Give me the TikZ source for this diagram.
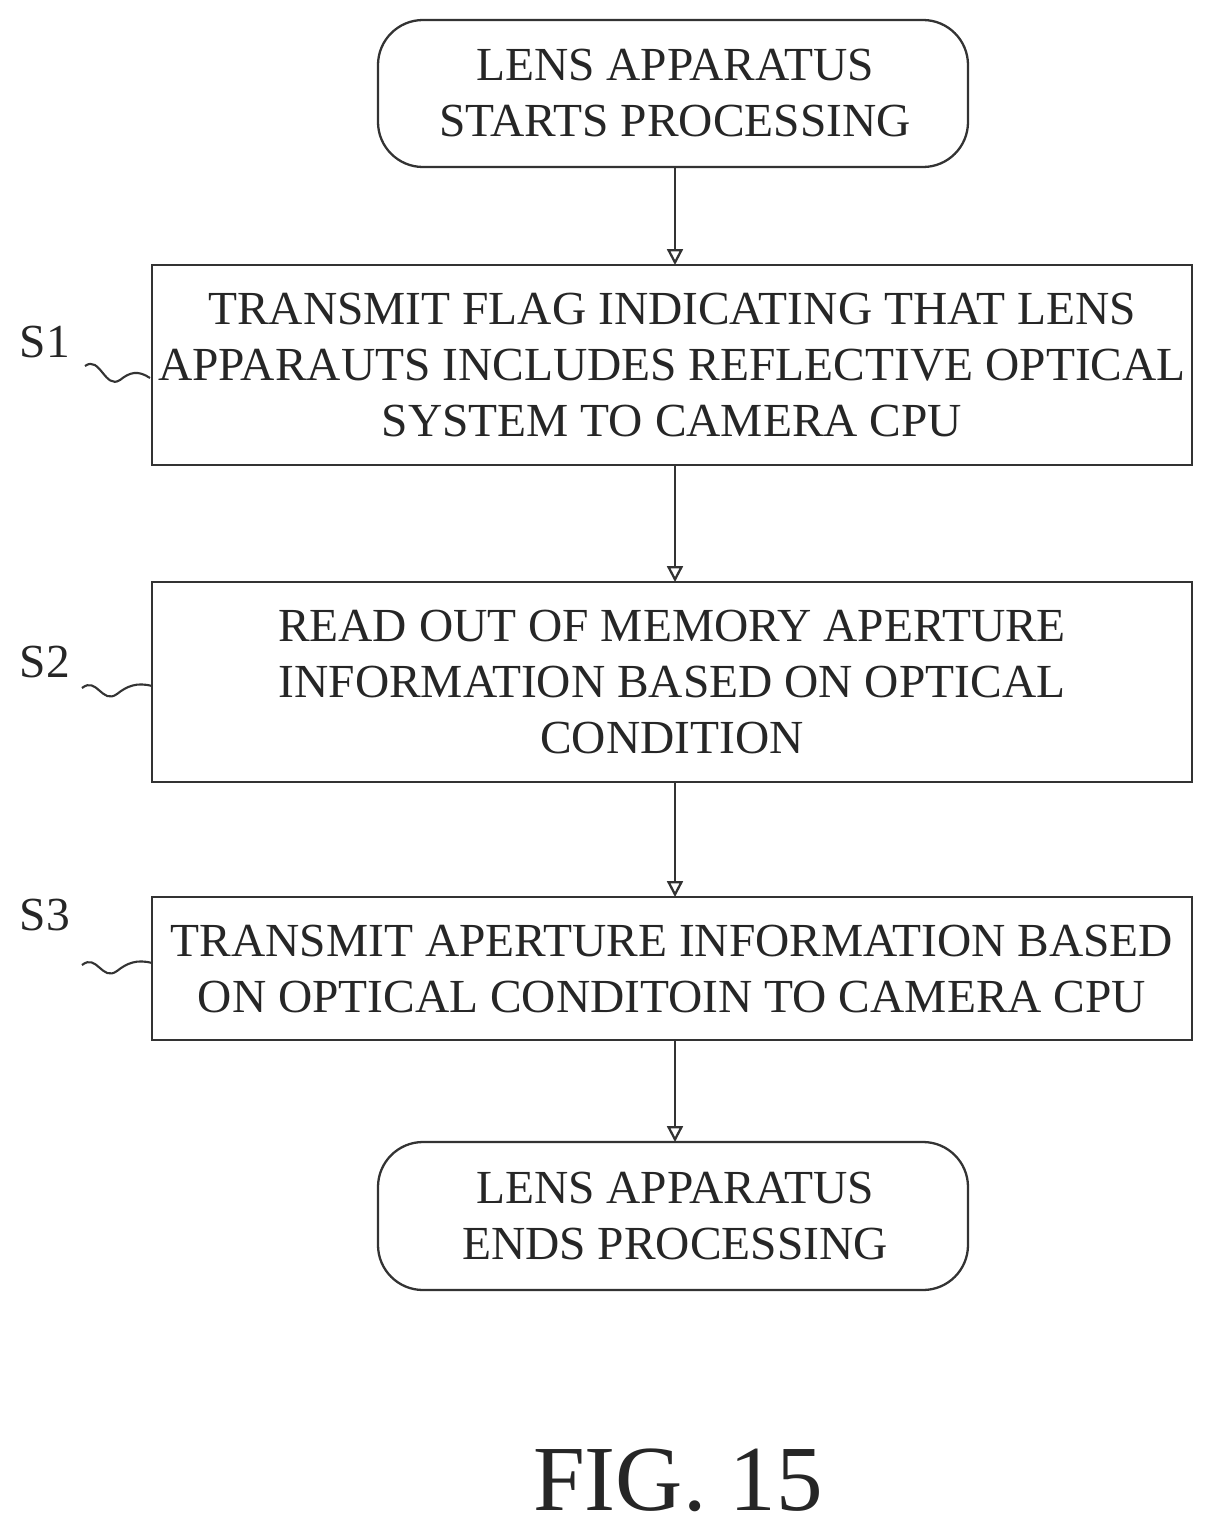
\documentclass[tikz,border=0pt]{standalone}
\usepackage{fontspec}
\setmainfont{Liberation Serif}
\usetikzlibrary{arrows.meta}
\begin{document}
\begin{tikzpicture}[x=0.02cm,y=-0.02cm,
  txt/.style={font=\fontsize{27}{32}\selectfont,align=center,text=black!85},
  box/.style={draw,line width=1.3pt,black!80},
  arr/.style={line width=1.3pt,black!80,-{Triangle[open,length=9pt,width=9pt]}},
  sq/.style={line width=1.2pt,black!80}]
\useasboundingbox (0,0) rectangle (1214,1538);
\draw[box,rounded corners=0.9cm] (378,20) rectangle (968,167);
\node[txt] (start) at (675,93) {LENS APPARATUS\\STARTS PROCESSING};
\draw[box] (152,265) rectangle (1192,465);
\node[txt] (s1) at (672,365) {TRANSMIT FLAG INDICATING THAT LENS\\APPARAUTS INCLUDES REFLECTIVE OPTICAL\\SYSTEM TO CAMERA CPU};
\draw[box] (152,582) rectangle (1192,782);
\node[txt] (s2) at (672,682) {READ OUT OF MEMORY APERTURE\\INFORMATION BASED ON OPTICAL\\CONDITION};
\draw[box] (152,897) rectangle (1192,1040);
\node[txt] (s3) at (672,969) {TRANSMIT APERTURE INFORMATION BASED\\ON OPTICAL CONDITOIN TO CAMERA CPU};
\draw[box,rounded corners=0.9cm] (378,1142) rectangle (968,1290);
\node[txt] (end) at (675,1216) {LENS APPARATUS\\ENDS PROCESSING};
\coordinate (a0) at (675,167); \coordinate (a1) at (675,265);
\coordinate (b0) at (675,465); \coordinate (b1) at (675,582);
\coordinate (c0) at (675,782); \coordinate (c1) at (675,897);
\coordinate (d0) at (675,1040); \coordinate (d1) at (675,1142);
\draw[arr] (a0) -- (a1);
\draw[arr] (b0) -- (b1);
\draw[arr] (c0) -- (c1);
\draw[arr] (d0) -- (d1);
\node[txt] (l1) at (45,342) {S1};
\node[txt] (l2) at (45,662) {S2};
\node[txt] (l3) at (45,915) {S3};
\draw[sq] (85,366) .. controls (100,355) and (105,390) .. (120,380) .. controls (130,372) and (138,370) .. (150,378);
\draw[sq] (82,688) .. controls (97,676) and (102,705) .. (117,694) .. controls (127,686) and (137,682) .. (152,686);
\draw[sq] (82,965) .. controls (97,953) and (102,982) .. (117,971) .. controls (127,963) and (137,959) .. (152,963);
\node[font=\fontsize{53}{60}\selectfont,text=black!85] (fig) at (678,1480) {FIG. 15};
\end{tikzpicture}
\end{document}
